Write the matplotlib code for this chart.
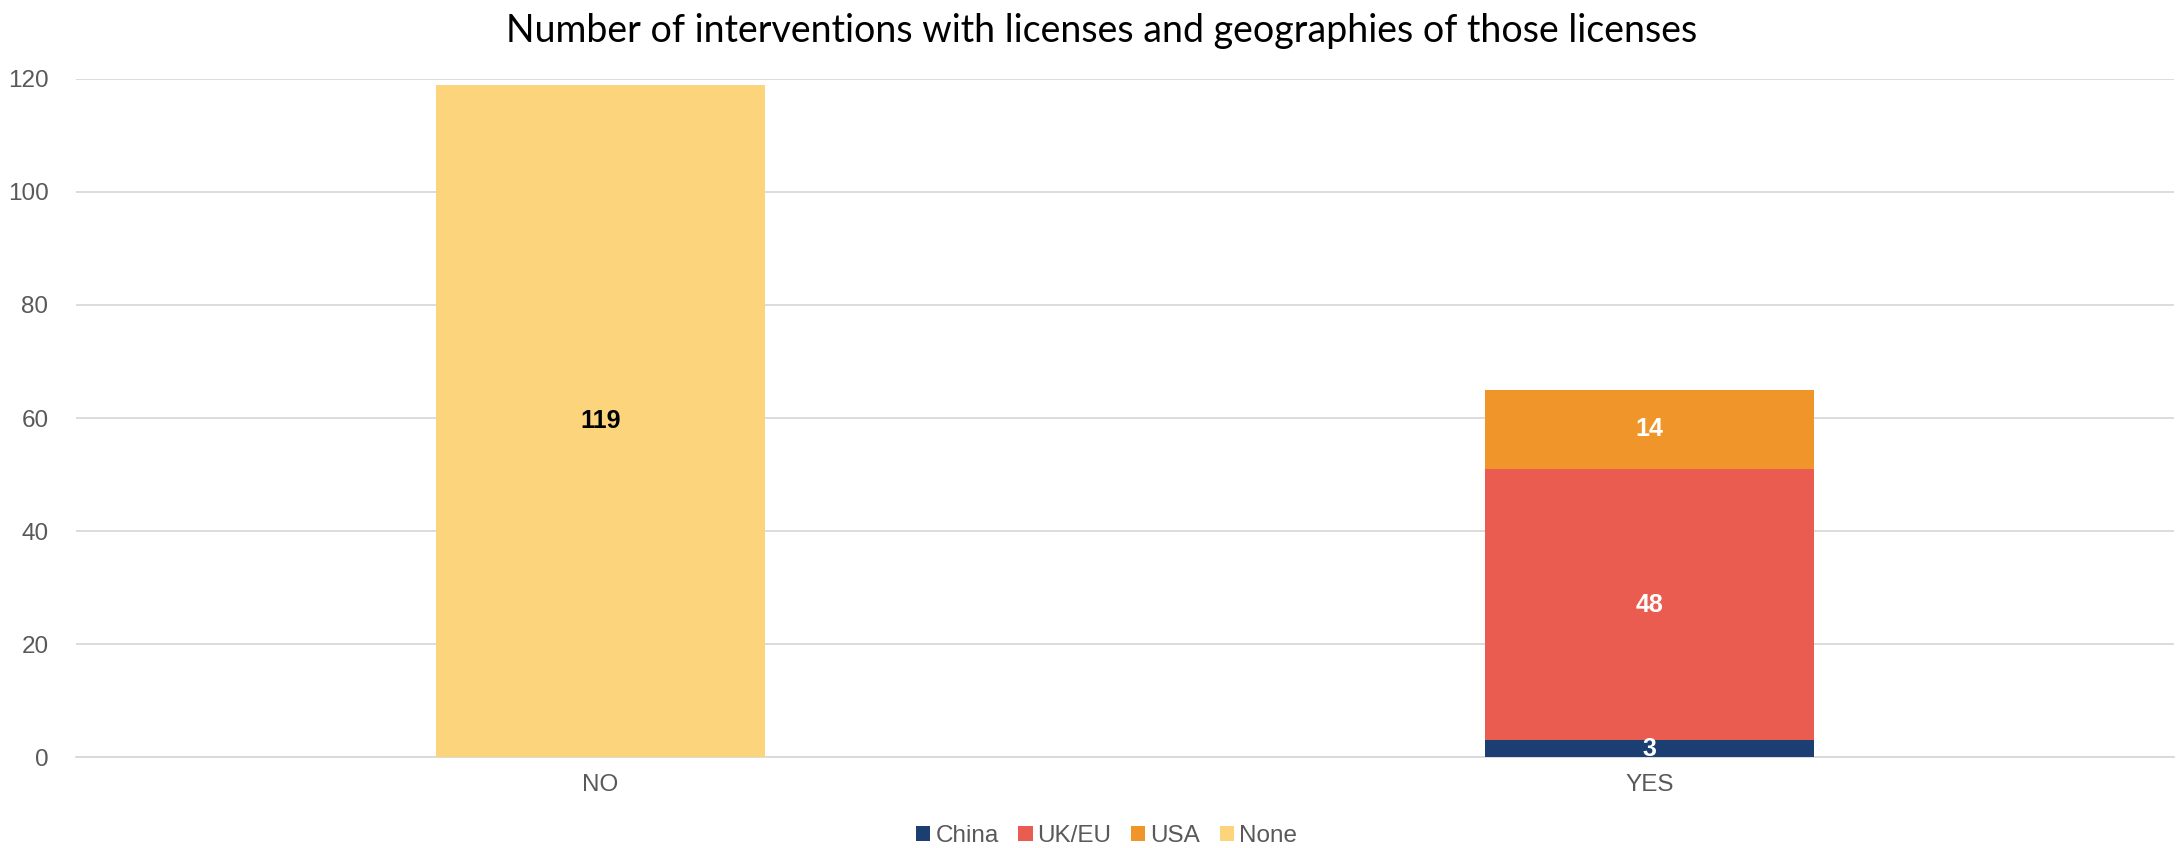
import matplotlib.pyplot as plt
import numpy as np

categories = ['NO', 'YES']
series_names = ['China', 'UK/EU', 'USA', 'None']
china = [0, 3]
uk_eu = [0, 48]
usa = [0, 14]
none = [119, 0]

colors = ['#1B3F72', '#E95C4F', '#F0952A', '#FCD47C']
label_colors = ['white', 'white', 'white', 'black']

plt.rcParams['font.family'] = ['Liberation Sans', 'DejaVu Sans']

fig = plt.figure(figsize=(21.78, 8.48), dpi=100)
ax = fig.add_axes([0.035, 0.107, 0.963, 0.8])

x = np.arange(len(categories))
width = 0.314
bottom = np.zeros(len(categories))
for name, vals, col, lc in zip(series_names, [china, uk_eu, usa, none], colors, label_colors):
    vals = np.array(vals, dtype=float)
    ax.bar(x, vals, width, bottom=bottom, color=col, label=name, zorder=3)
    for xi, v, b in zip(x, vals, bottom):
        if v > 0:
            ax.text(xi, b + v / 2, f'{int(v)}', ha='center', va='center',
                    color=lc, fontsize=18, fontweight='bold', zorder=4)
    bottom += vals

ax.set_xlim(-0.5, 1.5)
ax.set_ylim(0, 120)
ax.set_yticks(np.arange(0, 121, 20))
ax.set_xticks(x)
ax.set_xticklabels(categories)
ax.grid(axis='y', color='#D9D9D9', linewidth=1.3, zorder=0)
ax.tick_params(axis='both', length=0, labelsize=17.5, labelcolor='#595959')
ax.tick_params(axis='y', pad=20)
ax.tick_params(axis='x', pad=12)
for s in ['top', 'right', 'left']:
    ax.spines[s].set_visible(False)
ax.spines['bottom'].set_color('#D9D9D9')
ax.spines['bottom'].set_linewidth(1.3)

fig.suptitle('Number of interventions with licenses and geographies of those licenses',
             fontsize=27, family=['Lato', 'DejaVu Sans'], x=0.506, y=0.985)

leg = fig.legend(loc='lower center', ncol=4, frameon=False, fontsize=17.5,
                 bbox_to_anchor=(0.508, -0.025), handlelength=0.6, handleheight=0.6,
                 handletextpad=0.2, columnspacing=0.8, labelcolor='#595959')

fig.savefig('out.png', dpi=100)
